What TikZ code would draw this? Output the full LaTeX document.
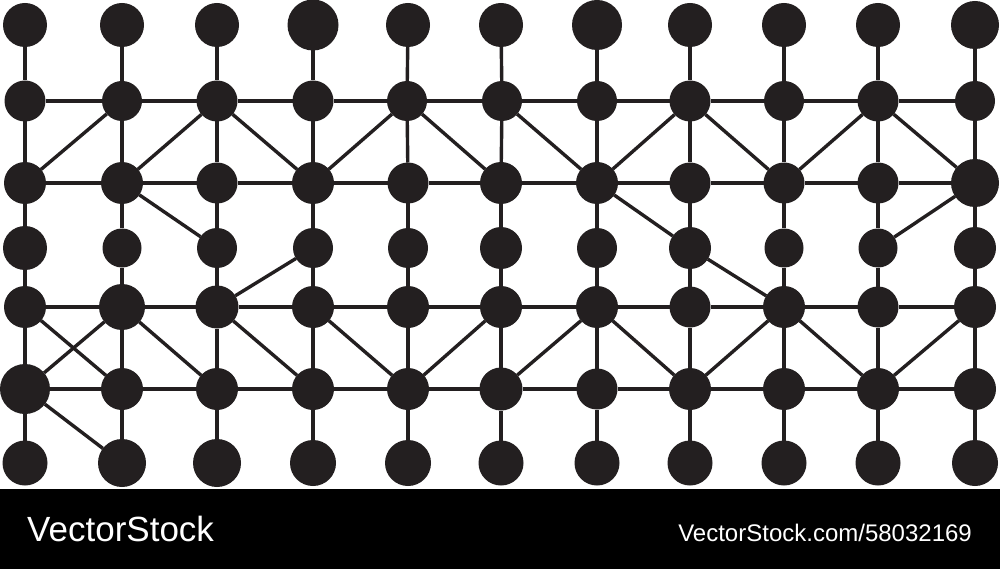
\documentclass[tikz,border=0pt]{standalone}
\usepackage{fontspec}
\setmainfont{Liberation Sans}
\definecolor{ink}{HTML}{231F20}
\begin{document}
\begin{tikzpicture}[x=1pt,y=-1pt,
  dot/.style={circle,fill=ink,inner sep=0pt,outer sep=0pt},
  link/.style={draw=ink,line width=3.4pt},
  banner/.style={text=white,inner sep=0pt}]
\useasboundingbox (0,0) rectangle (1000,569);
\fill[white] (0,0) rectangle (1000,489);
\fill[black] (0,489) rectangle (1000,569);
% row 0
\foreach \x/\rad [count=\c from 0] in {25/22,122/22,217/22,313/25.5,408/22,501/22,597/25,690/22,784/22,878/22,975/24}
  \node[dot,minimum size=2*\rad] (n\c-0) at (\x,25) {};
% row 1
\foreach \x/\rad [count=\c from 0] in {25/20.5,122/20,217/20.5,313/20.5,407/20,502/20,597/20,690/20.5,784/20,878/20.5,975/20}
  \node[dot,minimum size=2*\rad] (n\c-1) at (\x,101) {};
% row 2
\foreach \x/\rad [count=\c from 0] in {25/21,122/21,217/20.5,313/21,408/20.5,501/21,597/21,690/20.5,784/20.5,878/20.5,975/24}
  \node[dot,minimum size=2*\rad] (n\c-2) at (\x,183) {};
% row 3
\foreach \x/\rad [count=\c from 0] in {25/22,122/19.5,217/20,313/20,408/20,501/21,597/20,690/21,784/19.5,878/19.5,975/21}
  \node[dot,minimum size=2*\rad] (n\c-3) at (\x,248) {};
% row 4
\foreach \x/\rad [count=\c from 0] in {25/21,122/23,217/21.5,313/21,408/21,501/21,597/21,690/20.5,784/21,878/20.5,975/21}
  \node[dot,minimum size=2*\rad] (n\c-4) at (\x,307) {};
% row 5
\foreach \x/\rad [count=\c from 0] in {25/25,122/21,217/21,313/21,408/21,501/21.5,597/20.5,690/21,784/21,878/21,975/21}
  \node[dot,minimum size=2*\rad] (n\c-5) at (\x,389) {};
% row 6
\foreach \x/\rad [count=\c from 0] in {25/22.5,122/24,217/24,313/23,408/23,501/22.5,597/22.5,690/22.5,784/22.5,878/22.5,975/23}
  \node[dot,minimum size=2*\rad] (n\c-6) at (\x,463) {};
% vertical links
\foreach \c in {0,1,2,3,4,5,6,7,8,9,10}
  \foreach \r/\s in {0/1,1/2,2/3,3/4,4/5,5/6}
    \draw[link] (n\c-\r) -- (n\c-\s);
% horizontal links
\foreach \r in {1,2,4,5}
  \foreach \c/\d in {0/1,1/2,2/3,3/4,4/5,5/6,6/7,7/8,8/9,9/10}
    \draw[link] (n\c-\r) -- (n\d-\r);
% diagonal links
\foreach \a/\b in {0-2/1-1, 1-2/2-1, 2-1/3-2, 1-2/2-3, 3-2/4-1, 4-1/5-2, 5-1/6-2,
  6-2/7-1, 6-2/7-3, 7-1/8-2, 8-2/9-1, 9-1/10-2, 10-2/9-3,
  0-4/1-5, 0-5/1-4, 0-5/1-6, 1-4/2-5, 2-4/3-3, 2-4/3-5, 3-4/4-5, 4-5/5-4,
  5-5/6-4, 6-4/7-5, 7-3/8-4, 7-5/8-4, 8-4/9-5, 9-5/10-4}
  \draw[link] (n\a) -- (n\b);
% banner texts
\node[banner,anchor=base west,font=\fontsize{35}{40}\selectfont] (logo) at (27,541) {VectorStock};
\node[banner,anchor=base east,font=\fontsize{24}{28}\selectfont] (url) at (972,541) {VectorStock.com/58032169};
\end{tikzpicture}
\end{document}
